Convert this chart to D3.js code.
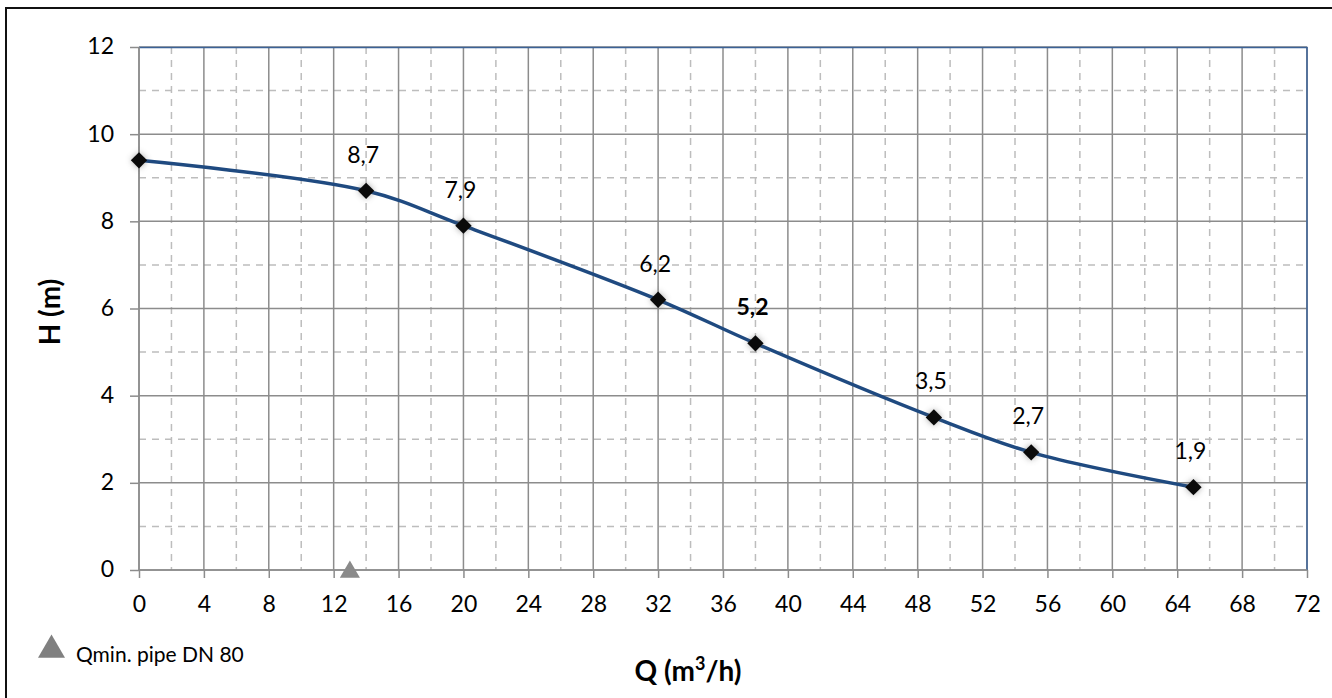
<!DOCTYPE html>
<html>
<head>
  <meta charset="utf-8">
  <title>Pump curve</title>
  <script src="https://d3js.org/d3.v7.min.js"></script>
  <style>
    body { margin: 0; background: #fff; }
    text { font-family: Lato, "Open Sans", sans-serif; fill: #000; }
    .major line { stroke: #8c8c8c; stroke-width: 1.5px; }
    .minor line { stroke: #bdbdbd; stroke-width: 1.5px; stroke-dasharray: 7 6; }
    .domain { display: none; }
  </style>
</head>
<body>
  <svg id="chart" width="1332" height="698"></svg>
  <script>
    // pump curve points (Q in m3/h, H in m)
    const flow = [0, 14, 20, 32, 38, 49, 55, 65];
    const head = [9.4, 8.7, 7.9, 6.2, 5.2, 3.5, 2.7, 1.9];
    const labelled = [false, true, true, true, true, true, true, true];
    const dutyFlow = 38;           // label drawn in bold
    const qMin = [{ q: 13, h: 0 }];  // Qmin. pipe DN 80

    const xTicks = d3.range(0, 73, 4);
    const xMinor = d3.range(2, 72, 4);
    const yTicks = d3.range(0, 13, 2);
    const yMinor = d3.range(1, 12, 2);

    const svg = d3.select("#chart");
    const margin = { top: 47, right: 25, bottom: 128, left: 139 };
    const width = 1332, height = 698;
    const chartWidth = width - margin.left - margin.right;
    const chartHeight = height - margin.top - margin.bottom;

    // outer frame
    svg.append("rect")
      .attr("x", 6).attr("y", 8)
      .attr("width", 1340).attr("height", 700)
      .attr("fill", "none").attr("stroke", "#111").attr("stroke-width", 2);

    const x = d3.scaleLinear().domain([0, 72]).range([0, chartWidth]);
    const y = d3.scaleLinear().domain([0, 12]).range([chartHeight, 0]);

    const g = svg.append("g").attr("transform", `translate(${margin.left},${margin.top})`);

    // minor dashed grid
    g.append("g").attr("class", "minor")
      .selectAll("line.v").data(xMinor).join("line")
      .attr("x1", d => x(d)).attr("x2", d => x(d))
      .attr("y1", 0).attr("y2", chartHeight);
    g.append("g").attr("class", "minor")
      .selectAll("line.h").data(yMinor).join("line")
      .attr("x1", 0).attr("x2", chartWidth)
      .attr("y1", d => y(d)).attr("y2", d => y(d));

    // major grid
    g.append("g").attr("class", "major")
      .selectAll("line").data(xTicks).join("line")
      .attr("x1", d => x(d)).attr("x2", d => x(d))
      .attr("y1", 0).attr("y2", chartHeight);
    g.append("g").attr("class", "major")
      .selectAll("line").data(yTicks).join("line")
      .attr("x1", 0).attr("x2", chartWidth)
      .attr("y1", d => y(d)).attr("y2", d => y(d));

    // top and right edges of plot area in blue
    g.append("path")
      .attr("d", `M0,0.5H${chartWidth}V${chartHeight}`)
      .attr("fill", "none").attr("stroke", "#3b6296").attr("stroke-width", 1.5);

    // axes
    const bottomAxis = d3.axisBottom(x).tickValues(xTicks).tickSize(8).tickPadding(17);
    const gx = g.append("g").attr("transform", `translate(0,${chartHeight})`).call(bottomAxis);
    const leftAxis = d3.axisLeft(y).tickValues(yTicks).tickSize(9).tickPadding(16);
    const gy = g.append("g").call(leftAxis);
    [gx, gy].forEach(a => {
      a.selectAll(".tick line").attr("stroke", "#8c8c8c").attr("stroke-width", 1.5);
      a.selectAll(".tick text").attr("font-size", 23).attr("font-family", "Lato, sans-serif");
    });
    gy.selectAll(".tick text").attr("dy", "0.3em");
    gx.selectAll(".tick text").attr("dy", "0.72em");
    g.append("line").attr("x1", 0).attr("x2", chartWidth)
      .attr("y1", chartHeight).attr("y2", chartHeight)
      .attr("stroke", "#8c8c8c").attr("stroke-width", 1.5);
    g.append("line").attr("x1", 0).attr("x2", 0)
      .attr("y1", 0).attr("y2", chartHeight)
      .attr("stroke", "#8c8c8c").attr("stroke-width", 1.5);

    const points = flow.map((q, i) => ({ q: q, h: head[i], label: labelled[i] }));

    // soft shadow for markers
    const defs = svg.append("defs");
    const blur = defs.append("filter").attr("id", "soft")
      .attr("x", "-100%").attr("y", "-100%").attr("width", "300%").attr("height", "300%");
    blur.append("feGaussianBlur").attr("stdDeviation", 3);

    // curve
    const line = d3.line().x(d => x(d.q)).y(d => y(d.h)).curve(d3.curveCatmullRom.alpha(0.5));
    g.append("path").datum(points)
      .attr("d", line)
      .attr("fill", "none").attr("stroke", "#1f4a80").attr("stroke-width", 3.5);

    // markers
    const diamond = d3.symbol().type(d3.symbolDiamond2).size(170);
    g.selectAll("path.shadow").data(points).join("path")
      .attr("class", "shadow")
      .attr("transform", d => `translate(${x(d.q)},${y(d.h)})`)
      .attr("d", diamond).attr("fill", "#555").attr("opacity", 0.5)
      .attr("filter", "url(#soft)");
    g.selectAll("path.marker").data(points).join("path")
      .attr("class", "marker")
      .attr("transform", d => `translate(${x(d.q)},${y(d.h)})`)
      .attr("d", diamond).attr("fill", "#0a0a0a");

    // value labels
    g.selectAll("text.value").data(points.filter(d => d.label)).join("text")
      .attr("class", "value")
      .attr("x", d => x(d.q) - 3)
      .attr("y", d => y(d.h) - 28)
      .attr("text-anchor", "middle")
      .attr("font-size", 23)
      .attr("font-weight", d => d.q === dutyFlow ? 700 : 400)
      .text(d => d3.format(".1f")(d.h).replace(".", ","));

    // Qmin triangle
    const tri = d3.symbol().type(d3.symbolTriangle).size(175);
    g.selectAll("path.qmin").data(qMin).join("path")
      .attr("class", "qmin")
      .attr("transform", d => `translate(${x(d.q)},${y(d.h) + 2})`)
      .attr("d", tri).attr("fill", "#8a8a8a");

    // legend
    svg.append("path")
      .attr("transform", "translate(51.5,650)")
      .attr("d", d3.symbol().type(d3.symbolTriangle).size(315))
      .attr("fill", "#808080");
    svg.append("text").attr("x", 76).attr("y", 662)
      .attr("font-size", 21).text("Qmin. pipe DN 80");

    // axis titles
    svg.append("text")
      .attr("transform", "translate(60,312) rotate(-90)")
      .attr("text-anchor", "middle")
      .attr("font-size", 28).attr("font-weight", 700)
      .text("H (m)");
    const qt = svg.append("text")
      .attr("x", 688).attr("y", 681)
      .attr("text-anchor", "middle")
      .attr("font-size", 28).attr("font-weight", 700);
    qt.append("tspan").text("Q (m");
    qt.append("tspan").attr("font-size", 18).attr("dy", -11).text("3");
    qt.append("tspan").attr("dy", 11).text("/h)");
  </script>
</body>
</html>
